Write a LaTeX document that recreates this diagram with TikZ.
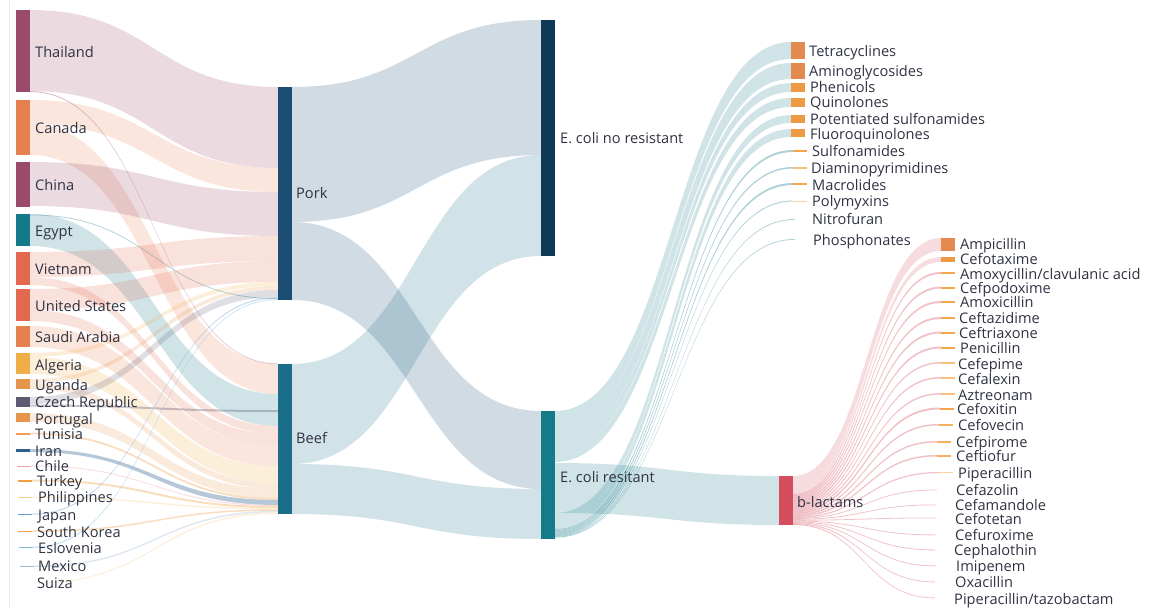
\documentclass[tikz,border=0pt]{standalone}
\usepackage{fontspec}
\setmainfont{Open Sans}
\definecolor{thaiC}{HTML}{9A4A6A}
\definecolor{canC}{HTML}{E5804F}
\definecolor{egyC}{HTML}{147A8A}
\definecolor{vieC}{HTML}{E2684F}
\definecolor{algC}{HTML}{F0AE48}
\definecolor{ugaC}{HTML}{E8954C}
\definecolor{czeC}{HTML}{5E5870}
\definecolor{tunC}{HTML}{F0A050}
\definecolor{iraC}{HTML}{2F5F8E}
\definecolor{chlC}{HTML}{F2A0A8}
\definecolor{turC}{HTML}{F0A040}
\definecolor{phiC}{HTML}{F8D090}
\definecolor{japC}{HTML}{6A9AD0}
\definecolor{eslC}{HTML}{80B8E0}
\definecolor{mexC}{HTML}{A0B8D0}
\definecolor{porkC}{HTML}{1B4D72}
\definecolor{beefC}{HTML}{1A6E8A}
\definecolor{ecnrC}{HTML}{0E3A58}
\definecolor{ecrC}{HTML}{157A8A}
\definecolor{blacC}{HTML}{D44E5E}
\definecolor{abA}{HTML}{E38B4E}
\definecolor{abB}{HTML}{EE9A45}
\definecolor{abC}{HTML}{F5A54A}
\definecolor{abD}{HTML}{F8C07A}
\definecolor{abE}{HTML}{F8D49A}
\definecolor{abF}{HTML}{F5B060}
\definecolor{txt}{HTML}{2F3242}
% band: x1, y1top, y1bot, x2, y2top, y2bot, style
\newcommand\sband[7]{%
  \fill[#7] (#1,#2) .. controls ({(#1+#4)/2},#2) and ({(#1+#4)/2},#5) .. (#4,#5)
    -- (#4,#6) .. controls ({(#1+#4)/2},#6) and ({(#1+#4)/2},#3) .. (#1,#3) -- cycle;}
% bar node: name, x, ytop, height, colour
\newcommand\bnode[5]{\node[barbox=#5, minimum height=#4pt] (#1) at (#2,#3) {};}
% label: name, x, ycentre, text
\newcommand\lab[4]{\node[lbl] (#1) at (#2,{#3+5.3}) {#4};}
\begin{document}
\begin{tikzpicture}[x=1pt,y=-1pt,
  font=\fontsize{14.6}{16}\selectfont,
  barbox/.style={draw=none, fill=#1, inner sep=0pt, outer sep=0pt,
    minimum width=14pt, anchor=north west},
  lbl/.style={anchor=base west, inner sep=0pt, text=txt},
  lk/.style={fill=#1, fill opacity=.2},
  lt/.style={fill=#1, fill opacity=.35}]
\useasboundingbox (0,0) rectangle (1151,608);
\draw[black!7, line width=0.8pt] (9,0) -- (9,608);

% ---------- countries -> Pork / Beef ----------
\sband{30}{10}{91}{278}{87}{168}{lk=thaiC}
\sband{30}{91}{92}{278}{363.5}{364.2}{lt=thaiC}
\sband{30}{100}{124}{278}{168}{192}{lk=canC}
\sband{30}{124}{155}{278}{364}{394}{lk=canC}
\sband{30}{162}{206}{278}{192}{236}{lk=thaiC}
\sband{30}{214}{246}{278}{394}{426}{lk=egyC}
\sband{30}{214.5}{215.3}{278}{298.2}{299}{lt=egyC}
\sband{30}{252}{277}{278}{236}{261}{lk=vieC}
\sband{30}{277}{285}{278}{426}{434}{lk=vieC}
\sband{30}{289}{310}{278}{261}{282}{lk=vieC}
\sband{30}{310}{321}{278}{434}{445}{lk=vieC}
\sband{30}{326}{347}{278}{445}{466}{lk=canC}
\sband{30}{353}{357}{278}{282}{286}{lk=algC}
\sband{30}{357}{374}{278}{466}{483}{lk=algC}
\sband{30}{379}{383}{278}{286}{290}{lk=ugaC}
\sband{30}{383}{389}{278}{483}{489}{lk=ugaC}
\sband{30}{397}{404}{278}{290}{297}{lk=czeC}
\sband{30}{404.5}{406.5}{278}{410}{412}{lt=czeC}
\sband{30}{413}{422}{278}{489}{498}{lk=ugaC}
\sband{30}{432.5}{434.5}{278}{498}{500}{lt=tunC}
\sband{30}{449}{452}{278}{500}{505}{lt=iraC}
\sband{31}{465.5}{466.5}{278}{505}{506}{lt=chlC}
\sband{32}{479.5}{481.5}{278}{506}{508}{lt=turC}
\sband{32}{496.5}{498}{278}{508}{509.3}{lt=phiC}
\sband{32}{513.5}{514.7}{278}{297}{298.2}{lt=japC}
\sband{32}{530.5}{532}{278}{509.3}{510.8}{lt=turC}
\sband{33}{546.5}{548}{278}{299}{300}{lt=eslC}
\sband{34}{565.5}{567}{278}{510.8}{512.3}{lt=mexC}
\sband{34}{582.5}{583.5}{278}{512.5}{514}{lt=phiC}

% ---------- Pork / Beef -> E. coli ----------
\sband{292}{87}{222}{541}{20}{155}{lk=porkC}
\sband{292}{222}{300}{541}{411}{489}{lk=porkC}
\sband{292}{364}{464}{541}{155}{256}{lk=beefC}
\sband{292}{464}{514}{541}{489}{539}{lk=beefC}

% ---------- E. coli resitant -> classes ----------
\sband{555}{411}{428}{791}{42}{59}{lk=ecrC}
\sband{555}{428}{444}{791}{63}{79}{lk=ecrC}
\sband{555}{444}{453}{791}{83}{92}{lk=ecrC}
\sband{555}{453}{462}{791}{98}{107}{lk=ecrC}
\sband{555}{463}{513}{779}{476}{525}{lk=ecrC}
\sband{555}{513}{521}{791}{115}{123}{lk=ecrC}
\sband{555}{521}{529}{791}{129}{137}{lk=ecrC}
\sband{555}{529}{531}{793}{150}{152}{lt=ecrC}
\sband{555}{531}{533}{793}{167}{168.5}{lt=ecrC}
\sband{555}{533}{535}{793}{183}{185}{lt=ecrC}
\sband{555}{535}{536}{793}{200.5}{201.5}{lt=ecrC}
\sband{555}{536}{536.8}{795}{219}{219.8}{lt=ecrC}
\sband{555}{536.8}{537.6}{795}{239}{239.8}{lt=ecrC}

% ---------- b-lactams -> antibiotics ----------
\sband{793}{476}{489}{941}{238}{251}{lk=blacC}
\sband{793}{489}{494}{941}{257}{262}{lk=blacC}
\sband{793}{494}{496}{941}{272}{274}{lt=blacC}
\sband{793}{496}{498}{941}{286.5}{288.5}{lt=blacC}
\sband{793}{498}{500}{941}{301}{303}{lt=blacC}
\sband{793}{500}{502}{941}{317}{319}{lt=blacC}
\sband{793}{502}{504}{941}{331.5}{333.5}{lt=blacC}
\sband{793}{504}{506}{941}{346.5}{348.5}{lt=blacC}
\sband{793}{506}{507.5}{941}{362}{363.5}{lt=blacC}
\sband{793}{507.5}{509}{941}{377}{378.5}{lt=blacC}
\sband{793}{509}{510.5}{941}{393}{394.5}{lt=blacC}
\sband{793}{510.5}{512.5}{940}{407.5}{409.5}{lt=blacC}
\sband{793}{512.5}{514}{939}{424}{425.5}{lt=blacC}
\sband{793}{514}{515.5}{937}{441}{442.5}{lt=blacC}
\sband{793}{515.5}{517}{937}{455}{456.5}{lt=blacC}
\sband{793}{517}{518.2}{939}{472}{473.2}{lt=blacC}
\sband{793}{518.2}{519}{937}{489.5}{490.3}{lt=blacC}
\sband{793}{519}{519.8}{936}{504.5}{505.3}{lt=blacC}
\sband{793}{519.8}{520.6}{936}{517.5}{518.3}{lt=blacC}
\sband{793}{520.6}{521.4}{936}{534.5}{535.3}{lt=blacC}
\sband{793}{521.4}{522.2}{935}{549.5}{550.3}{lt=blacC}
\sband{793}{522.2}{523}{936}{565.5}{566.3}{lt=blacC}
\sband{793}{523}{524}{935}{581.5}{582.3}{lt=blacC}
\sband{793}{524}{525}{935}{597.5}{598.3}{lt=blacC}

% ---------- bars ----------
\bnode{thai}{16}{10}{82}{thaiC}
\bnode{can}{16}{100}{55}{canC}
\bnode{chi}{16}{162}{45}{thaiC}
\bnode{egy}{16}{214}{32}{egyC}
\bnode{vie}{16}{252}{33}{vieC}
\bnode{usa}{16}{289}{32}{vieC}
\bnode{sau}{16}{326}{21}{canC}
\bnode{alg}{16}{353}{21}{algC}
\bnode{uga}{16}{379}{10}{ugaC}
\bnode{cze}{16}{397}{10}{czeC}
\bnode{por}{16}{413}{9}{ugaC}
\bnode{tun}{16}{432.5}{2}{tunC}
\bnode{ira}{16}{449}{3}{iraC}
\bnode{chl}{17}{465.5}{1}{chlC}
\bnode{tur}{18}{479.5}{2}{turC}
\bnode{phi}{18}{496.5}{1.5}{phiC}
\bnode{jap}{18}{513.5}{1.2}{japC}
\bnode{sko}{18}{530.5}{1.5}{turC}
\bnode{esl}{19}{546.5}{1.5}{eslC}
\bnode{mex}{20}{565.5}{1.5}{mexC}

\bnode{pork}{278}{87}{213}{porkC}
\bnode{beef}{278}{364}{150}{beefC}
\bnode{ecnr}{541}{20}{236}{ecnrC}
\bnode{ecr}{541}{411}{128}{ecrC}
\bnode{blac}{779}{476}{49}{blacC}

\bnode{tet}{791}{42}{17}{abA}
\bnode{ami}{791}{63}{16}{abA}
\bnode{phe}{791}{83}{9}{abB}
\bnode{qui}{791}{98}{9}{abB}
\bnode{pot}{791}{115}{8}{abB}
\bnode{flu}{791}{129}{8}{abB}
\bnode{sul}{793}{150}{2}{abC}
\bnode{dia}{793}{167}{1.5}{abD}
\bnode{mac}{793}{183}{2}{abC}
\bnode{pol}{793}{200.5}{1}{abE}

\bnode{amp}{941}{238}{13}{abA}
\bnode{ctx}{941}{257}{5}{abB}
\bnode{amc}{941}{272}{2}{abC}
\bnode{cpd}{941}{286.5}{2}{abC}
\bnode{amx}{941}{301}{2}{abC}
\bnode{caz}{941}{317}{2}{abC}
\bnode{cro}{941}{331.5}{2}{abC}
\bnode{pen}{941}{346.5}{2}{abC}
\bnode{fep}{941}{362}{1.5}{abD}
\bnode{lex}{941}{377}{1.5}{abD}
\bnode{azt}{941}{393}{1.5}{abD}
\bnode{fox}{940}{407.5}{2}{abC}
\bnode{fov}{939}{424}{1.5}{abF}
\bnode{cpr}{937}{441}{1.5}{abF}
\bnode{xnl}{937}{455}{1.5}{abF}
\bnode{pip}{939}{472}{1.2}{abE}

% ---------- labels ----------
\lab{lthai}{35}{52}{Thailand}
\lab{lcan}{35}{128}{Canada}
\lab{lchi}{35}{185}{China}
\lab{legy}{35}{231}{Egypt}
\lab{lvie}{35}{269}{Vietnam}
\lab{lusa}{35}{306}{United States}
\lab{lsau}{35}{337}{Saudi Arabia}
\lab{lalg}{35}{365}{Algeria}
\lab{luga}{35}{385}{Uganda}
\lab{lcze}{35}{402}{Czech Republic}
\lab{lpor}{35}{419}{Portugal}
\lab{ltun}{35}{434}{Tunisia}
\lab{lira}{35}{451}{Iran}
\lab{lchl}{35}{466}{Chile}
\lab{ltur}{37}{481}{Turkey}
\lab{lphi}{38}{497}{Philippines}
\lab{ljap}{38}{515}{Japan}
\lab{lsko}{37}{532}{South Korea}
\lab{lesl}{38}{548}{Eslovenia}
\lab{lmex}{38}{566}{Mexico}
\lab{lsui}{37}{583}{Suiza}

\lab{lpork}{296}{193}{Pork}
\lab{lbeef}{296}{438}{Beef}
\lab{lecnr}{560}{138}{E. coli no resistant}
\lab{lecr}{560}{477}{E. coli resitant}
\lab{lblac}{797}{502}{b-lactams}

\lab{ltet}{809}{51}{Tetracyclines}
\lab{lami}{809}{71}{Aminoglycosides}
\lab{lphe}{810}{87}{Phenicols}
\lab{lqui}{810}{102}{Quinolones}
\lab{lpot}{810}{119}{Potentiated sulfonamides}
\lab{lflu}{810}{134}{Fluoroquinolones}
\lab{lsul}{812}{151}{Sulfonamides}
\lab{ldia}{811}{168}{Diaminopyrimidines}
\lab{lmac}{812}{185}{Macrolides}
\lab{lpol}{812}{201}{Polymyxins}
\lab{lnit}{812}{219}{Nitrofuran}
\lab{lpho}{813}{240}{Phosphonates}

\lab{lamp}{960}{244}{Ampicillin}
\lab{lctx}{960}{259}{Cefotaxime}
\lab{lamc}{960}{274}{Amoxycillin/clavulanic acid}
\lab{lcpd}{960}{288}{Cefpodoxime}
\lab{lamx}{960}{302}{Amoxicillin}
\lab{lcaz}{959}{318}{Ceftazidime}
\lab{lcro}{959}{333}{Ceftriaxone}
\lab{lpen}{960}{348}{Penicillin}
\lab{lfep}{958}{364}{Cefepime}
\lab{llex}{958}{379}{Cefalexin}
\lab{lazt}{958}{395}{Aztreonam}
\lab{lfox}{957}{409}{Cefoxitin}
\lab{lfov}{958}{425}{Cefovecin}
\lab{lcpr}{956}{442}{Cefpirome}
\lab{lxnl}{956}{456}{Ceftiofur}
\lab{lpip}{958}{473}{Piperacillin}
\lab{lcfz}{956}{490}{Cefazolin}
\lab{lcfm}{955}{505}{Cefamandole}
\lab{lctt}{955}{519}{Cefotetan}
\lab{lcxm}{955}{535}{Cefuroxime}
\lab{lcef}{954}{550}{Cephalothin}
\lab{limi}{956}{566}{Imipenem}
\lab{loxa}{955}{582}{Oxacillin}
\lab{ltzp}{954}{599}{Piperacillin/tazobactam}
\end{tikzpicture}
\end{document}
